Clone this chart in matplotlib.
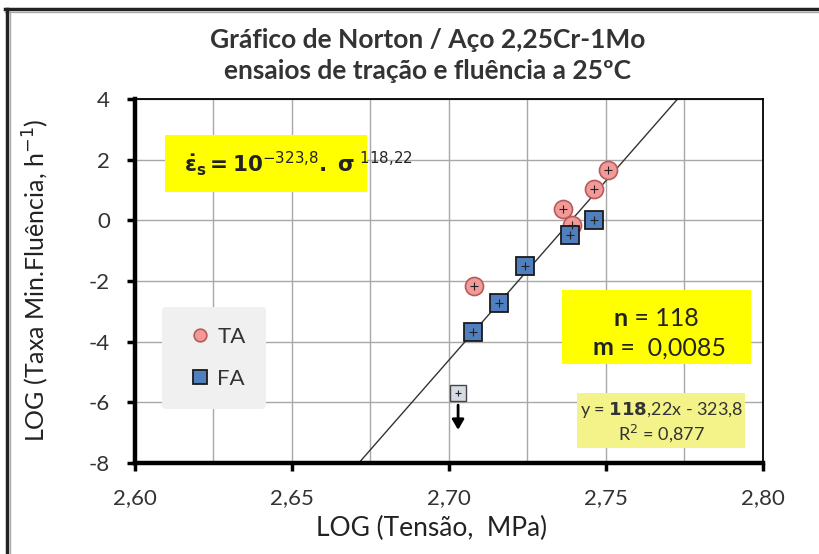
import numpy as np
import matplotlib.pyplot as plt
from matplotlib.patches import Rectangle
from matplotlib.lines import Line2D
from matplotlib.ticker import FuncFormatter, MultipleLocator

plt.rcParams['font.family'] = ['Lato', 'DejaVu Sans']
plt.rcParams['axes.unicode_minus'] = False

# tensile tests (TA) and creep tests (FA), log10 of stress [MPa] and min. creep rate [1/h]
ta_logS = [2.7506, 2.7462, 2.7363, 2.7392, 2.7080]
ta_logE = [1.67, 1.04, 0.38, -0.15, -2.18]
fa_logS = [2.7462, 2.7385, 2.7242, 2.7159, 2.7076]
fa_logE = [0.02, -0.50, -1.49, -2.74, -3.69]
# creep test with rate below the measured value
fa_up_logS = [2.7029]
fa_up_logE = [-5.70]

# Norton fit: log(rate) = n*log(stress) + b
fit_n = 118.22
fit_b = -323.8
fit_r2 = 0.877

fig = plt.figure(figsize=(8.19, 5.54), dpi=100)
ax = fig.add_axes([0.1648, 0.1643, 0.7668, 0.6570])
ax.set_xlim(2.60, 2.80)
ax.set_ylim(-8, 4)

ax.xaxis.set_major_locator(MultipleLocator(0.05))
ax.xaxis.set_minor_locator(MultipleLocator(0.025))
ax.yaxis.set_major_locator(MultipleLocator(2))
ax.xaxis.set_major_formatter(FuncFormatter(lambda v, p: f'{v:.2f}'.replace('.', ',')))
ax.yaxis.set_major_formatter(FuncFormatter(lambda v, p: f'{v:.0f}'))
ax.grid(True, which='both', axis='x', color='#a8a8a8', lw=1.0)
ax.grid(True, which='major', axis='y', color='#a8a8a8', lw=1.0)
ax.tick_params(axis='x', which='minor', length=0)
ax.tick_params(which='major', length=6, width=2.5, color='black',
               labelsize=16, labelcolor='#333333', pad=12)
ax.set_axisbelow(True)

for s in ['left', 'bottom']:
    ax.spines[s].set_linewidth(3.2)
for s in ['top', 'right']:
    ax.spines[s].set_linewidth(1.3)

# regression line over the whole x range
xs = np.array([2.60, 2.80])
ax.plot(xs, fit_n * xs + fit_b, color='#333333', lw=1.0, zorder=2)

ax.plot(ta_logS, ta_logE, 'o', ms=13, mfc='#f29a9a', mec='#b85a5a', mew=1.2,
        zorder=3, label='TA')
ax.plot(ta_logS, ta_logE, '+', ms=6, color='#222222', mew=0.8, zorder=4)
ax.plot(fa_logS, fa_logE, 's', ms=13.5, mfc='#4f7fbf', mec='#1a1a1a', mew=1.3,
        zorder=3, label='FA')
ax.plot(fa_logS, fa_logE, '+', ms=6, color='#222222', mew=0.8, zorder=4)
ax.plot(fa_up_logS, fa_up_logE, 's', ms=12, mfc='#d6dbe3', mec='#444444',
        mew=1.0, zorder=3)
ax.plot(fa_up_logS, fa_up_logE, '+', ms=5, color='#222222', mew=0.8, zorder=4)
ax.annotate('', xy=(fa_up_logS[0], fa_up_logE[0] - 1.3),
            xytext=(fa_up_logS[0], fa_up_logE[0] - 0.3),
            arrowprops=dict(arrowstyle='-|>,head_width=0.35,head_length=0.6',
                            color='black', lw=2), zorder=5)

leg = ax.legend(loc='lower left', bbox_to_anchor=(0.025, 0.118), frameon=True,
                fontsize=16, handletextpad=0.0, labelspacing=1.0,
                borderpad=0.9, handlelength=1.6, markerscale=0.7)
leg.get_frame().set_facecolor('#f0f0f0')
leg.get_frame().set_edgecolor('none')
leg.get_frame().set_alpha(1)
for t in leg.get_texts():
    t.set_color('#333333')

# annotation boxes
ax.add_patch(Rectangle((0.048, 0.745), 0.321, 0.156, transform=ax.transAxes,
                       facecolor='#ffff00', edgecolor='none', zorder=6))
ax.text(0.078, 0.823,
        r'$\mathbf{\dot{\varepsilon}_s = 10}^{-323{,}8}\mathbf{.\ \sigma}^{\ 118{,}22}$',
        transform=ax.transAxes, fontsize=15.5, color='#222222',
        ha='left', va='center', zorder=7)

ax.add_patch(Rectangle((0.680, 0.272), 0.301, 0.203, transform=ax.transAxes,
                       facecolor='#ffff00', edgecolor='none', zorder=6))
ax.text(0.785, 0.398, 'n', transform=ax.transAxes, fontsize=18, fontweight='bold',
        color='#222222', ha='right', va='center', zorder=7)
ax.text(0.785, 0.398, ' = 118', transform=ax.transAxes, fontsize=18,
        color='#222222', ha='left', va='center', zorder=7)
ax.text(0.762, 0.316, 'm', transform=ax.transAxes, fontsize=18, fontweight='bold',
        color='#222222', ha='right', va='center', zorder=7)
ax.text(0.762, 0.316, ' =  0,0085', transform=ax.transAxes, fontsize=18,
        color='#222222', ha='left', va='center', zorder=7)

ax.add_patch(Rectangle((0.704, 0.041), 0.267, 0.151, transform=ax.transAxes,
                       facecolor='#f3f38a', edgecolor='none', zorder=6))
ax.text(0.838, 0.145,
        'y = ' + r'$\mathbf{' + f'{fit_n:.0f}' + r'}$' +
        f'{fit_n:.2f}'[3:].replace('.', ',') + f'x - {-fit_b:.1f}'.replace('.', ','),
        transform=ax.transAxes, fontsize=13, color='#333333',
        ha='center', va='center', zorder=7)
ax.text(0.838, 0.082, r'R$^2$ = ' + f'{fit_r2:.3f}'.replace('.', ','),
        transform=ax.transAxes, fontsize=13, color='#333333',
        ha='center', va='center', zorder=7)

ax.set_xlabel('LOG (Tensão,  MPa)', fontsize=19, color='#222222')
ax.xaxis.set_label_coords(0.473, -0.145)
fig.text(0.043, 0.495, r'LOG (Taxa Min.Fluência, h$^{-1}$)', rotation=90,
         fontsize=18, color='#222222', ha='center', va='center')

fig.text(0.522, 0.928, 'Gráfico de Norton / Aço 2,25Cr-1Mo', fontsize=19,
         fontweight='bold', color='#333333', ha='center', va='center')
fig.text(0.522, 0.872, 'ensaios de tração e fluência a 25ºC', fontsize=19,
         fontweight='bold', color='#333333', ha='center', va='center')

# outer frame of the chart area
fig.add_artist(Line2D([5 / 819, 1], [1 - 9 / 554] * 2, transform=fig.transFigure,
                      color='#222222', lw=2.5))
fig.add_artist(Line2D([5 / 819, 1], [1 - 12 / 554] * 2, transform=fig.transFigure,
                      color='#aaaaaa', lw=1.0))
fig.add_artist(Line2D([7 / 819] * 2, [0, 1 - 9 / 554], transform=fig.transFigure,
                      color='#222222', lw=2.5))
fig.add_artist(Line2D([10 / 819] * 2, [0, 1 - 12 / 554], transform=fig.transFigure,
                      color='#aaaaaa', lw=1.0))

fig.savefig('out.png', dpi=100)
